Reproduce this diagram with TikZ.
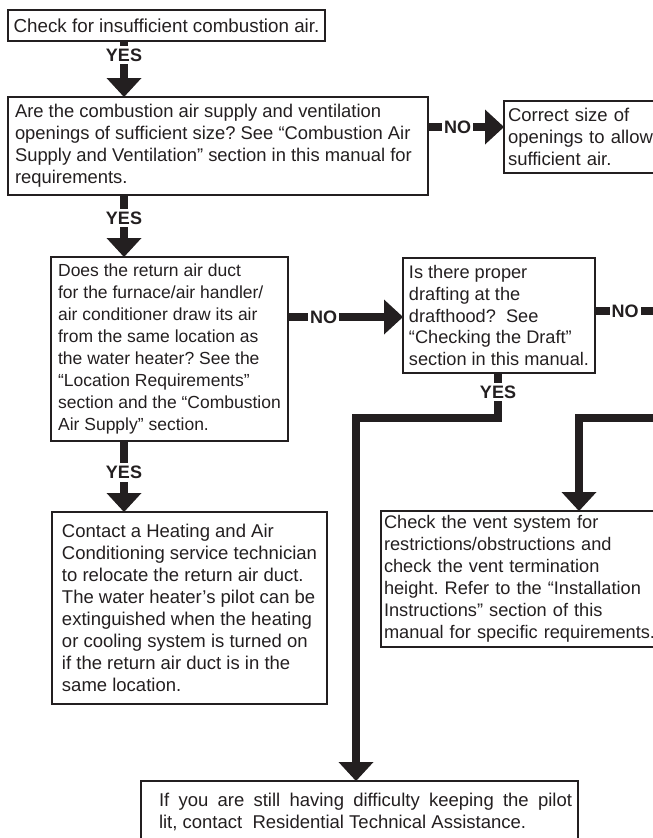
\documentclass[tikz,border=0pt]{standalone}
\usepackage{fontspec}
\setmainfont{Liberation Sans}
\usetikzlibrary{arrows.meta,positioning}
\definecolor{chartInk}{HTML}{231F20}
\newcommand{\tagfont}{\bfseries\fontsize{18}{18}\selectfont}
\tikzset{
 chart/.style={x=1pt,y=-1pt,line join=miter,text=chartInk},
 qbox/.style={draw=chartInk,line width=1.2pt,anchor=north west,align=left,
   inner xsep=0pt,inner ysep=0pt,outer sep=0pt,
   font=\frenchspacing\fontsize{#1}{21.9}\selectfont},
 qbox/.default=18.5,
 flowline/.style={draw=chartInk,line width=7.5pt,
   -{Triangle[length=19pt,width=35pt,line width=0pt]}},
 tag/.style={fill=white,inner xsep=2pt,inner ysep=3pt,font=\tagfont,text=chartInk}
}

\begin{document}
\begin{tikzpicture}[chart]
 \useasboundingbox (0,0) rectangle (653,838);
 \clip (0,0) rectangle (653,838);
 % columns and rows of the thick connectors
 \coordinate (colA) at (124,0);
 \coordinate (rowA) at (0,127);
 \coordinate (rowB) at (0,317);
 \coordinate (offR) at (672,311);
 \coordinate (offRlow) at (672,418);
 \coordinate (dropNo) at (579,418);
 \coordinate (elbowYes) at (498,418);
 \coordinate (dropYes) at (356,418);
 % boxes
 \node[qbox=18.8,minimum width=317,minimum height=31] (check) at (8,10)
   {Check for insufficient combustion air.};
 \node[qbox=18.4,minimum width=420,minimum height=98] (supply) at (8,97)
   {\makebox[406pt][l]{Are the combustion air supply and ventilation}\\
    openings of sufficient size? See “Combustion Air\\
    Supply and Ventilation” section in this manual for\\
    requirements.};
 \node[qbox,minimum width=200,minimum height=72,text width=192,inner xsep=4] (fix) at (504,101)
   {Correct size of\\ openings to allow\\ sufficient air.};
 \node[qbox=17.5,minimum width=237,minimum height=184] (duct) at (51,257)
   {Does the return air duct\\
    for the furnace/air handler/\\
    air conditioner draw its air\\
    from the same location as\\
    the water heater? See the\\
    “Location Requirements”\\
    section and the “Combustion\\
    Air Supply” section.};
 \node[qbox=18.2,minimum width=192,minimum height=115] (draft) at (403,258)
   {Is there proper\\
    drafting at the\\
    drafthood?\ \ See\\
    “Checking the Draft”\\
    section in this manual.};
 \node[qbox=18.2,minimum width=300,minimum height=136,text width=294,inner xsep=3] (vent) at (381,511)
   {Check the vent system for\\
    restrictions/obstructions and\\
    check the vent termination\\
    height. Refer to the “Installation\\
    Instructions” section of this\\
    manual for specific requirements.};
 \node[qbox,minimum width=275,minimum height=192] (contact) at (52,512)
   {Contact a Heating and Air\\
    Conditioning service technician\\
    to relocate the return air duct.\\
    The water heater’s pilot can be\\
    extinguished when the heating\\
    or cooling system is turned on\\
    if the return air duct is in the\\
    same location.};
 \node[qbox,minimum width=437,minimum height=62] (help) at (141,781)
   {\hspace*{12pt}\makebox[413pt][s]{If you are still having difficulty keeping the pilot}\\
    \hspace*{12pt}lit, contact\ \ Residential Technical Assistance.};
 % connectors
 \draw[flowline] (check.south -| colA) -- node[tag,pos=.25] {YES} (supply.north -| colA);
 \draw[flowline] (supply.south -| colA) -- node[tag,pos=.37] {YES} (duct.north -| colA);
 \draw[flowline] (duct.south -| colA) -- node[tag,pos=.44] {YES} (contact.north -| colA);
 \draw[flowline] (supply.east |- rowA) -- node[tag,pos=.39] {NO} (fix.west |- rowA);
 \draw[flowline] (duct.east |- rowB) -- node[tag,pos=.31] {NO} (draft.west |- rowB);
 \draw[flowline] (draft.east |- offR) -- node[tag,pos=.39] {NO} (offR) -- (offRlow)
   -- (dropNo) -- (vent.north -| dropNo);
 \draw[flowline] (draft.south -| elbowYes) -- node[tag,pos=.42] {YES} (elbowYes)
   -- (dropYes) -- (help.north -| dropYes);
\end{tikzpicture}
\end{document}
